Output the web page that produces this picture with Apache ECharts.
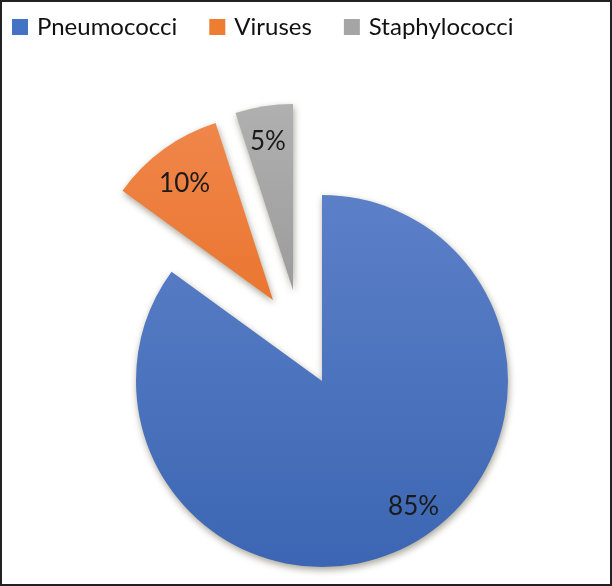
<!DOCTYPE html>
<html>
<head>
<meta charset="utf-8">
<script src="https://cdn.jsdelivr.net/npm/echarts@6/dist/echarts.min.js"></script>
<style>html,body{margin:0;padding:0;background:#fff}#c{width:612px;height:586px}</style>
</head>
<body>
<div id="c"></div>
<script>
const categories = ['Pneumococci', 'Viruses', 'Staphylococci'];
const values = [85, 10, 5];
const colorTop = ['#5c80c8', '#f0864a', '#b0b0b0'];
const colorBottom = ['#3c66b3', '#ea7630', '#9c9c9c'];
const legendColors = ['#4472c4', '#ed7d31', '#a5a5a5'];

// per-slice layout (pie vertex), explosion handled by separate centres
const centers = [[322, 381], [273, 300], [293, 290]];
const labelShift = [[48, 40], [-32, -39], [-10, -54]];
const R = 186;

const chart = echarts.init(document.getElementById('c'), null, {renderer: 'canvas'});

const series = categories.map(function (name, s) {
  return {
    type: 'pie',
    name: name,
    center: centers[s],
    radius: R,
    startAngle: 90,
    clockwise: true,
    avoidLabelOverlap: false,
    emphasis: {disabled: true},
    labelLine: {show: false},
    labelLayout: function () {
      return {dx: labelShift[s][0], dy: labelShift[s][1]};
    },
    data: categories.map(function (n, i) {
      const visible = i === s;
      return {
        name: n,
        value: values[i],
        itemStyle: visible ? {
          color: {type: 'linear', x: 0, y: 0, x2: 0, y2: 1,
            colorStops: [{offset: 0, color: colorTop[i]}, {offset: 1, color: colorBottom[i]}]},
          shadowBlur: 7, shadowOffsetY: 3, shadowOffsetX: 1,
          shadowColor: 'rgba(60,50,20,0.45)'
        } : {color: 'rgba(0,0,0,0)'},
        label: visible ? {
          show: true, position: 'inside', formatter: '{c}%',
          fontFamily: 'Lato', fontSize: 26, color: '#1a1a1a'
        } : {show: false}
      };
    })
  };
});

chart.setOption({
  animation: false,
  backgroundColor: '#fff',
  graphic: [{
    type: 'rect', shape: {x: 1, y: 1, width: 610, height: 584},
    style: {fill: 'none', stroke: '#222', lineWidth: 2}, silent: true
  }],
  legend: {
    left: 7, top: 10,
    icon: 'rect', itemWidth: 16, itemHeight: 16, itemGap: 32,
    selectedMode: false,
    textStyle: {fontFamily: 'Lato', fontSize: 24, color: '#111', padding: [0, 0, 0, 4]},
    data: categories.map(function (n, i) { return {name: n, itemStyle: {color: legendColors[i]}}; })
  },
  series: series
});
</script>
</body>
</html>
